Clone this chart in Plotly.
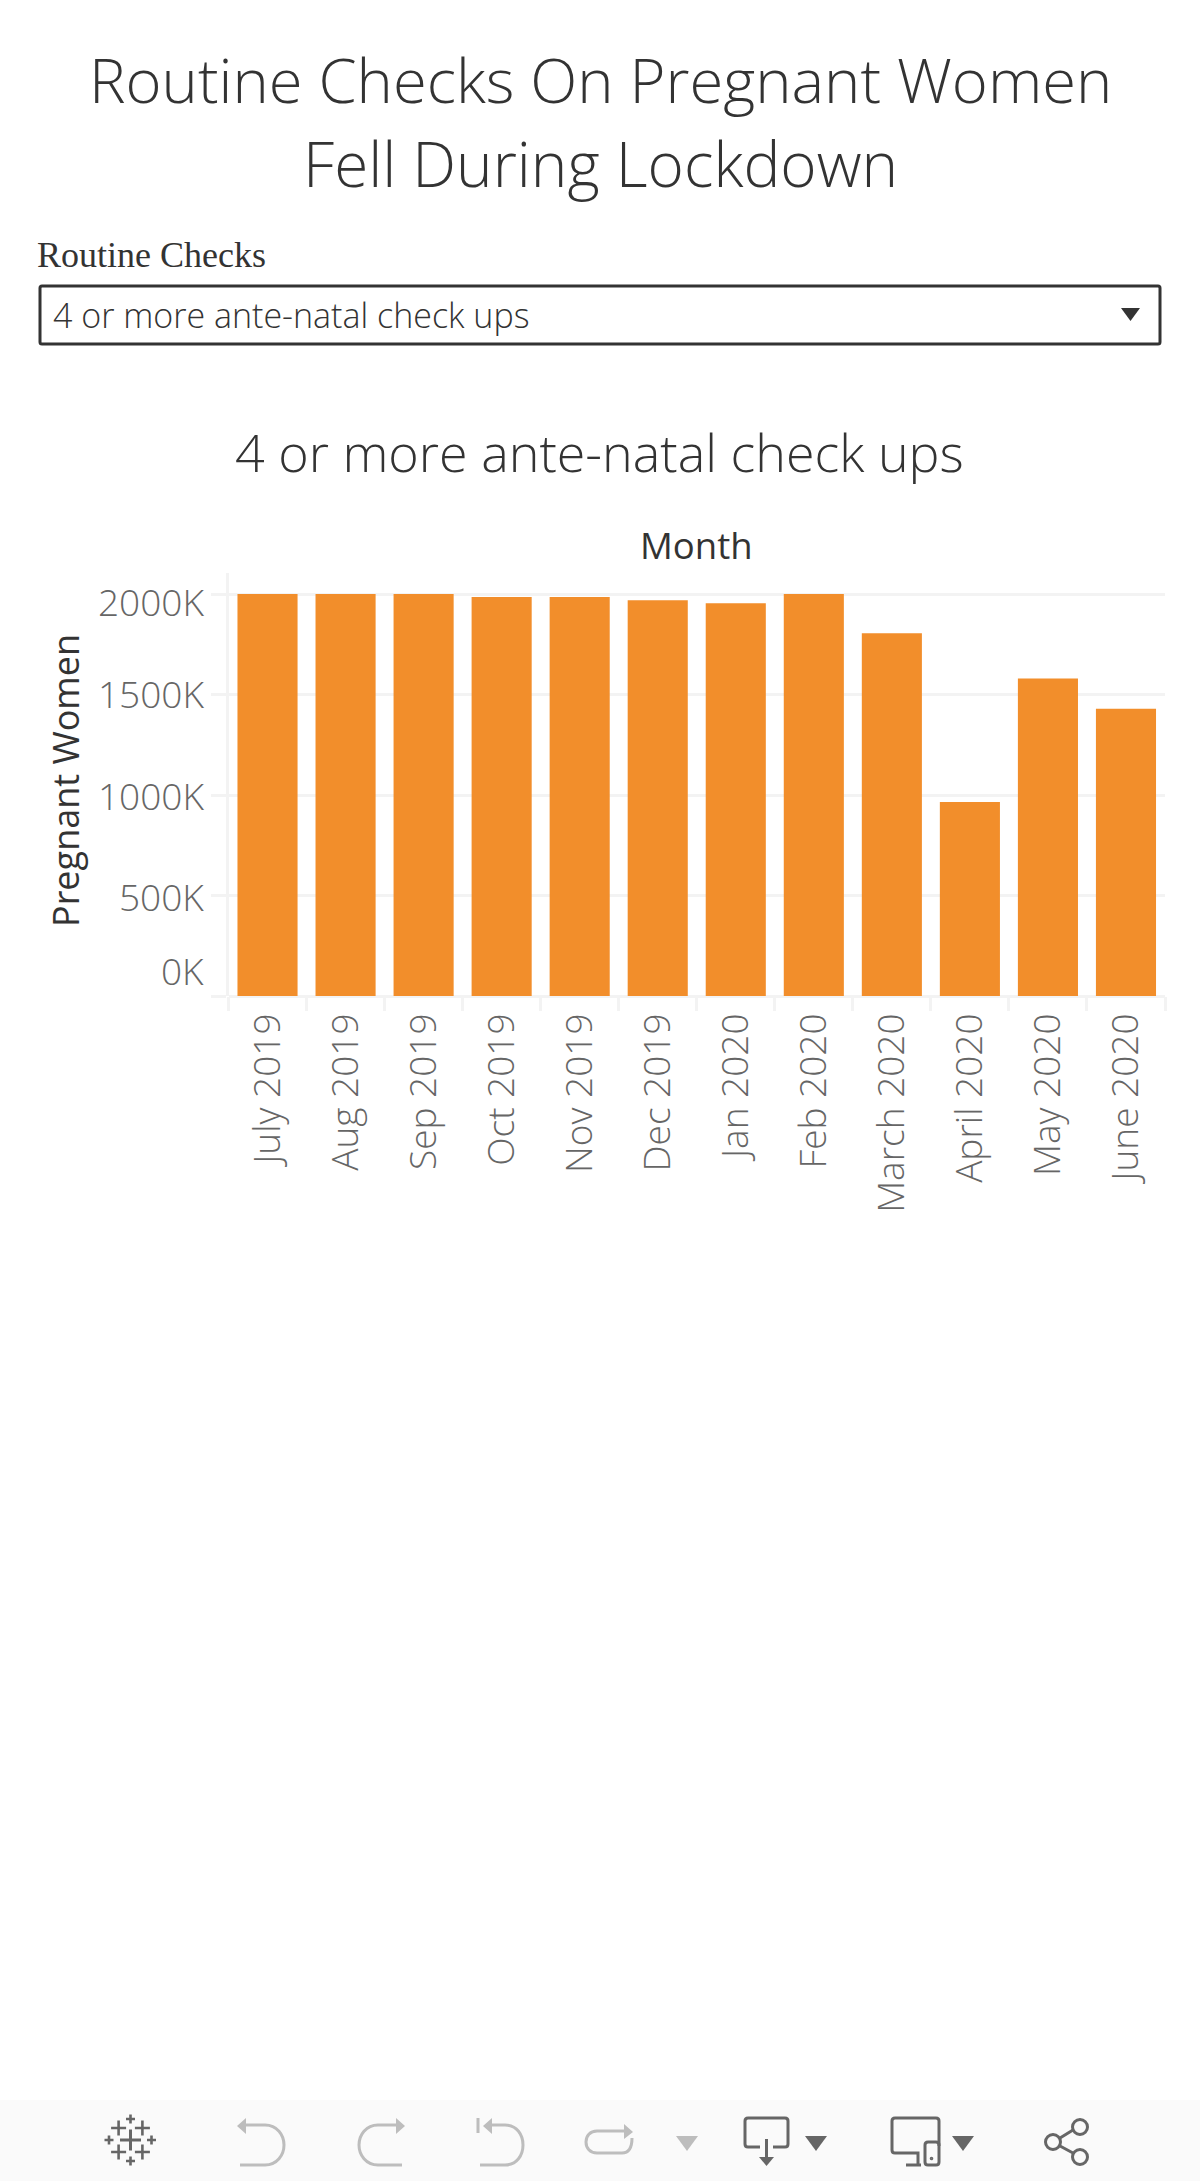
import plotly.graph_objects as go

months = ["July 2019", "Aug 2019", "Sep 2019", "Oct 2019", "Nov 2019", "Dec 2019",
          "Jan 2020", "Feb 2020", "March 2020", "April 2020", "May 2020", "June 2020"]
pregnant_women = [2000000, 2000000, 2000000, 1986000, 1986000, 1970000,
                  1954000, 2000000, 1805000, 965000, 1580000, 1430000]
y_ticks = [0, 500000, 1000000, 1500000, 2000000]
y_tick_labels = ["0K", "500K", "1000K", "1500K", "2000K"]
y_label_shift = [26, -1, 0, 1, -7]

W, H = 1200, 2181
LIGHT = "Open Sans, sans-serif"
MEDIUM = "Open Sans, sans-serif"
DARK = "#333333"
GREY = "#666666"
PALE = "#bdbdbd"
GRID = "#f3f3f3"

fig = go.Figure()
fig.add_trace(go.Bar(x=months, y=pregnant_women, width=0.77,
                     marker=dict(color="#F28E2B", line=dict(width=0)),
                     name="Pregnant Women", showlegend=False))
# Page-pixel overlay axes, used for the page furniture only
fig.add_trace(go.Scatter(x=[None], y=[None], xaxis="x2", yaxis="y2",
                         showlegend=False, hoverinfo="skip"))

shapes = []


def stroke(path, color=GREY, width=3):
    shapes.append(dict(type="path", path=path, xref="x2", yref="y2", layer="above",
                       line=dict(color=color, width=width)))


def fill(path, color=GREY):
    shapes.append(dict(type="path", path=path, xref="x2", yref="y2", layer="above",
                       fillcolor=color, line=dict(width=0)))


def ring(cx, cy, r, color=GREY, width=3):
    shapes.append(dict(type="circle", x0=cx - r, x1=cx + r, y0=cy - r, y1=cy + r,
                       xref="x2", yref="y2", layer="above",
                       line=dict(color=color, width=width)))


def plus(cx, cy, r, width):
    stroke(f"M{cx - r} {cy}H{cx + r}M{cx} {cy - r}V{cy + r}", GREY, width)


# Toolbar band
shapes.append(dict(type="rect", x0=0, x1=W, y0=2100, y1=H, xref="x2", yref="y2",
                   layer="below", fillcolor="#fafafa", line=dict(width=0)))

# Selector box
stroke("M42 286H1158Q1160 286 1160 288V342Q1160 344 1158 344H42Q40 344 40 342V288Q40 286 42 286Z",
       DARK, 3)
fill("M1121 308H1140L1130.5 321Z", DARK)

# Tableau logo
plus(130.5, 2140, 10.5, 3)
for cx, cy in [(118.6, 2128), (142.4, 2128), (118.6, 2152), (142.4, 2152)]:
    plus(cx, cy, 7.5, 2.6)
for cx, cy in [(130.5, 2119), (130.5, 2161), (109, 2140), (151.5, 2140)]:
    plus(cx, cy, 4.5, 2.6)

# Undo
fill("M237 2126L246 2118V2134Z", PALE)
stroke("M245 2125H265C277 2125 284 2135 284 2145C284 2155 277 2165 265 2165H240", PALE)
# Redo
fill("M405 2126L396 2118V2134Z", PALE)
stroke("M397 2125H378C366 2125 359 2135 359 2145C359 2155 366 2165 378 2165H402", PALE)
# Revert
stroke("M478 2118V2133", PALE)
fill("M483 2126L492 2118V2134Z", PALE)
stroke("M491 2125H505C517 2125 523 2135 523 2145C523 2155 517 2165 505 2165H480", PALE)
# Refresh
fill("M633 2132L624 2124V2139Z", PALE)
stroke("M625 2131H597C590 2131 586 2136 586 2142C586 2148 590 2153 597 2153H622C628 2153 632 2149 632 2138", PALE)
# Dropdown triangles
fill("M676 2136H698L687 2151Z", PALE)
fill("M805 2136H827L816 2151Z", GREY)
fill("M952 2136H974L963 2151Z", GREY)
# Download
stroke("M760 2147H748Q745 2147 745 2144V2121Q745 2118 748 2118H785Q788 2118 788 2121V2144Q788 2147 785 2147H773")
stroke("M766.5 2139V2160")
fill("M759 2157H774L766.5 2166Z", GREY)
# Device layout
stroke("M939 2146V2121Q939 2118 936 2118H895Q892 2118 892 2121V2150Q892 2153 895 2153H918V2165")
stroke("M906 2165H921")
stroke("M928 2142H936Q939 2142 939 2145V2162Q939 2165 936 2165H928Q925 2165 925 2162V2145Q925 2142 928 2142Z")
ring(931.5, 2158.5, 0.8, GREY, 2)
# Share
ring(1080, 2127, 7.5)
ring(1053, 2142, 7.5)
ring(1080, 2157, 7.5)
stroke("M1060 2138L1073 2130M1060 2146L1073 2153")


def page_text(text, x, y, size, family=LIGHT, color=DARK, anchor="center", angle=0, weight=300):
    return dict(text=text, x=x, y=y, xref="x2", yref="y2", showarrow=False,
                xanchor=anchor, yanchor="middle", textangle=angle,
                font=dict(family=family, size=size, color=color, weight=weight))


annotations = [
    page_text("Routine Checks On Pregnant Women", 600, 79, 61.5),
    page_text("Fell During Lockdown", 600, 163, 62),
    page_text("Routine Checks", 35, 255, 36, family="Liberation Serif", anchor="left", weight=400),
    page_text("4 or more ante-natal check ups", 51, 315, 34, anchor="left"),
    page_text("4 or more ante-natal check ups", 599, 451, 52),
    page_text("Month", 696, 545, 36.5, family=MEDIUM, weight=500),
    page_text("Pregnant Women", 65, 781, 36, family=MEDIUM, angle=-90, weight=500),
]
for value, label, shift in zip(y_ticks, y_tick_labels, y_label_shift):
    annotations.append(dict(text=label, x=0, xref="paper", xanchor="right",
                            xshift=206, y=value, yref="y", yanchor="middle", yshift=shift,
                            showarrow=False,
                            font=dict(family=LIGHT, size=37, color=GREY, weight=300)))

top, bottom, left, right = 573, 996, 228.5, 1165
fig.update_layout(
    width=W, height=H, margin=dict(l=0, r=0, t=0, b=0), autosize=False,
    paper_bgcolor="white", plot_bgcolor="rgba(0,0,0,0)",
    bargap=0.23, shapes=shapes, annotations=annotations, showlegend=False,
    xaxis=dict(domain=[left / W, right / W], type="category", tickson="boundaries",
               categoryorder="array", categoryarray=months,
               tickangle=-90, ticks="outside", ticklen=14, tickwidth=3, tickcolor=GRID,
               tickfont=dict(family=LIGHT, size=37, color=GREY, weight=300),
               showgrid=False, showline=False, zeroline=False, anchor="y",
               ticklabelstandoff=9),
    yaxis=dict(domain=[1 - bottom / H, 1 - top / H], range=[0, 2105000],
               tickvals=y_ticks, ticktext=[""] * len(y_ticks),
               ticks="outside", ticklen=15, tickwidth=3, tickcolor=GRID,
               showgrid=True, gridcolor=GRID, gridwidth=3,
               zeroline=True, zerolinecolor=GRID, zerolinewidth=3,
               showline=True, linecolor=GRID, linewidth=3, anchor="x"),
    xaxis2=dict(domain=[0, 1], range=[0, W], visible=False, anchor="y2", fixedrange=True),
    yaxis2=dict(domain=[0, 1], range=[H, 0], visible=False, anchor="x2", fixedrange=True),
)

fig.write_html("out.html", post_script="document.body.style.margin='0';document.body.style.overflow='hidden';",
               config=dict(displayModeBar=False))
